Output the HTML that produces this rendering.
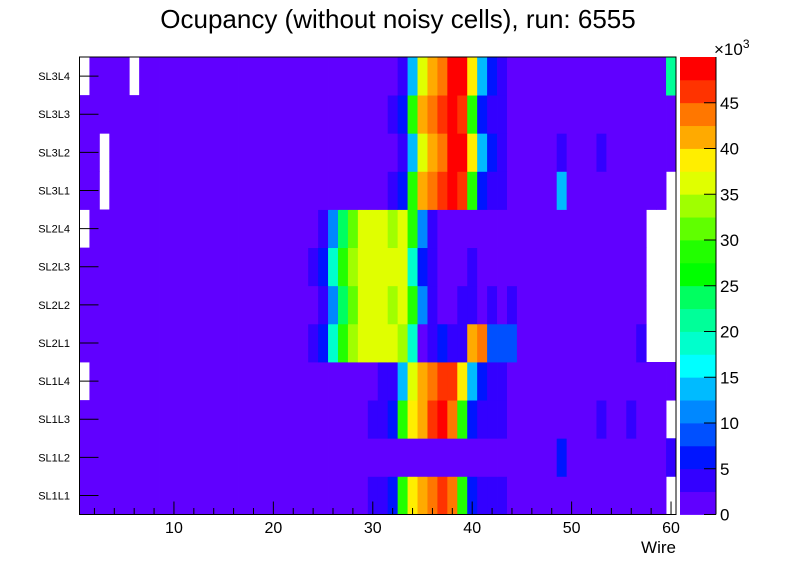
<!DOCTYPE html>
<html><head><meta charset="utf-8">
<style>
body{margin:0;background:#fff;}
svg{display:block;font-family:"Liberation Sans",sans-serif;}
</style></head>
<body>
<svg id="chart" width="796" height="572" viewBox="0 0 796 572">
<rect width="796" height="572" fill="#fff"/>
<text x="398" y="28" font-size="26" text-anchor="middle">Ocupancy (without noisy cells), run: 6555</text>
<g id="cells"></g>
<g id="axes"></g>
<g id="cbar"></g>
</svg>
<script>
// layers (bottom to top)
const layers = ["SL1L1","SL1L2","SL1L3","SL1L4","SL2L1","SL2L2","SL2L3","SL2L4","SL3L1","SL3L2","SL3L3","SL3L4"];
// occupancy in thousands, wires 1..60 (null = empty)
const rowSL1L1 = [1.2,1.2,1.2,1.2,1.2,1.2,1.2,1.2,1.2,1.2, 1.2,1.2,1.2,1.2,1.2,1.2,1.2,1.2,1.2,1.2, 1.2,1.2,1.2,1.2,1.2,1.2,1.2,1.2,1.2,3.7, 3.7,6.2,28.7,38.7,41.2,43.7,46.2,43.7,28.7,6.2, 3.7,3.7,3.7,1.2,1.2,1.2,1.2,1.2,1.2,1.2, 1.2,1.2,1.2,1.2,1.2,1.2,1.2,1.2,1.2,null];
const rowSL1L2 = [1.2,1.2,1.2,1.2,1.2,1.2,1.2,1.2,1.2,1.2, 1.2,1.2,1.2,1.2,1.2,1.2,1.2,1.2,1.2,1.2, 1.2,1.2,1.2,1.2,1.2,1.2,1.2,1.2,1.2,1.2, 1.2,1.2,1.2,1.2,1.2,1.2,1.2,1.2,1.2,1.2, 1.2,1.2,1.2,1.2,1.2,1.2,1.2,1.2,6.2,1.2, 1.2,1.2,1.2,1.2,1.2,1.2,1.2,1.2,1.2,3.7];
const rowSL1L3 = [1.2,1.2,1.2,1.2,1.2,1.2,1.2,1.2,1.2,1.2, 1.2,1.2,1.2,1.2,1.2,1.2,1.2,1.2,1.2,1.2, 1.2,1.2,1.2,1.2,1.2,1.2,1.2,1.2,1.2,3.7, 3.7,6.2,28.7,38.7,41.2,46.2,48.7,43.7,28.7,6.2, 3.7,3.7,3.7,1.2,1.2,1.2,1.2,1.2,1.2,1.2, 1.2,1.2,3.7,1.2,1.2,3.7,1.2,1.2,1.2,null];
const rowSL1L4 = [null,1.2,1.2,1.2,1.2,1.2,1.2,1.2,1.2,1.2, 1.2,1.2,1.2,1.2,1.2,1.2,1.2,1.2,1.2,1.2, 1.2,1.2,1.2,1.2,1.2,1.2,1.2,1.2,1.2,1.2, 3.7,3.7,13.7,36.2,41.2,43.7,46.2,46.2,38.7,13.7, 6.2,3.7,3.7,1.2,1.2,1.2,1.2,1.2,1.2,1.2, 1.2,1.2,1.2,1.2,1.2,1.2,1.2,1.2,1.2,1.2];
const rowSL2L1 = [1.2,1.2,1.2,1.2,1.2,1.2,1.2,1.2,1.2,1.2, 1.2,1.2,1.2,1.2,1.2,1.2,1.2,1.2,1.2,1.2, 1.2,1.2,1.2,3.7,6.2,18.7,28.7,33.7,36.2,36.2, 36.2,36.2,33.7,18.7,1.2,3.7,6.2,3.7,3.7,41.2, 43.7,8.7,8.7,8.7,1.2,1.2,1.2,1.2,1.2,1.2, 1.2,1.2,1.2,1.2,1.2,1.2,3.7,null,null,null];
const rowSL2L2 = [1.2,1.2,1.2,1.2,1.2,1.2,1.2,1.2,1.2,1.2, 1.2,1.2,1.2,1.2,1.2,1.2,1.2,1.2,1.2,1.2, 1.2,1.2,1.2,1.2,3.7,11.2,23.7,31.2,36.2,36.2, 36.2,33.7,36.2,28.7,11.2,3.7,1.2,1.2,3.7,3.7, 1.2,3.7,1.2,3.7,1.2,1.2,1.2,1.2,1.2,1.2, 1.2,1.2,1.2,1.2,1.2,1.2,1.2,null,null,null];
const rowSL2L3 = [1.2,1.2,1.2,1.2,1.2,1.2,1.2,1.2,1.2,1.2, 1.2,1.2,1.2,1.2,1.2,1.2,1.2,1.2,1.2,1.2, 1.2,1.2,1.2,3.7,6.2,18.7,28.7,33.7,36.2,36.2, 36.2,36.2,36.2,18.7,6.2,3.7,1.2,1.2,1.2,3.7, 1.2,1.2,1.2,1.2,1.2,1.2,1.2,1.2,1.2,1.2, 1.2,1.2,1.2,1.2,1.2,1.2,1.2,null,null,null];
const rowSL2L4 = [null,1.2,1.2,1.2,1.2,1.2,1.2,1.2,1.2,1.2, 1.2,1.2,1.2,1.2,1.2,1.2,1.2,1.2,1.2,1.2, 1.2,1.2,1.2,1.2,3.7,11.2,23.7,31.2,36.2,36.2, 36.2,33.7,36.2,28.7,11.2,3.7,1.2,1.2,1.2,1.2, 1.2,1.2,1.2,1.2,1.2,1.2,1.2,1.2,1.2,1.2, 1.2,1.2,1.2,1.2,1.2,1.2,1.2,null,null,null];
const rowSL3L1 = [1.2,1.2,null,1.2,1.2,1.2,1.2,1.2,1.2,1.2, 1.2,1.2,1.2,1.2,1.2,1.2,1.2,1.2,1.2,1.2, 1.2,1.2,1.2,1.2,1.2,1.2,1.2,1.2,1.2,1.2, 1.2,3.7,6.2,28.7,41.2,43.7,46.2,48.7,46.2,28.7, 6.2,3.7,3.7,1.2,1.2,1.2,1.2,1.2,13.7,1.2, 1.2,1.2,1.2,1.2,1.2,1.2,1.2,1.2,1.2,null];
const rowSL3L2 = [1.2,1.2,null,1.2,1.2,1.2,1.2,1.2,1.2,1.2, 1.2,1.2,1.2,1.2,1.2,1.2,1.2,1.2,1.2,1.2, 1.2,1.2,1.2,1.2,1.2,1.2,1.2,1.2,1.2,1.2, 1.2,1.2,3.7,13.7,36.2,41.2,43.7,48.7,48.7,38.7, 13.7,6.2,3.7,1.2,1.2,1.2,1.2,1.2,3.7,1.2, 1.2,1.2,3.7,1.2,1.2,1.2,1.2,1.2,1.2,1.2];
const rowSL3L3 = [1.2,1.2,1.2,1.2,1.2,1.2,1.2,1.2,1.2,1.2, 1.2,1.2,1.2,1.2,1.2,1.2,1.2,1.2,1.2,1.2, 1.2,1.2,1.2,1.2,1.2,1.2,1.2,1.2,1.2,1.2, 1.2,3.7,6.2,28.7,41.2,43.7,46.2,48.7,46.2,28.7, 6.2,3.7,3.7,1.2,1.2,1.2,1.2,1.2,1.2,1.2, 1.2,1.2,1.2,1.2,1.2,1.2,1.2,1.2,1.2,1.2];
const rowSL3L4 = [null,1.2,1.2,1.2,1.2,null,1.2,1.2,1.2,1.2, 1.2,1.2,1.2,1.2,1.2,1.2,1.2,1.2,1.2,1.2, 1.2,1.2,1.2,1.2,1.2,1.2,1.2,1.2,1.2,1.2, 1.2,1.2,3.7,13.7,36.2,41.2,43.7,48.7,48.7,38.7, 13.7,6.2,3.7,1.2,1.2,1.2,1.2,1.2,1.2,1.2, 1.2,1.2,1.2,1.2,1.2,1.2,1.2,1.2,1.2,21.2];
const rows = [rowSL1L1,rowSL1L2,rowSL1L3,rowSL1L4,rowSL2L1,rowSL2L2,rowSL2L3,rowSL2L4,rowSL3L1,rowSL3L2,rowSL3L3,rowSL3L4];
const xTicks = [10,20,30,40,50,60];
const zTicks = [0,5,10,15,20,25,30,35,40,45];

const palette = ["#6000ff","#3300ff","#0015ff","#0050ff","#0088ff","#00bbff","#00ffff","#00ffcc","#00ff99","#00ff60","#00ff00","#22ff00","#60ff00","#a0ff00","#e0ff00","#ffee00","#ffaa00","#ff7700","#ff3300","#ff0000"];
const zMax = 50;
const X0=79.5, X1=676, Y0=57, Y1=514.5;
const xMin=0.5, xMax=60.5;
const sx = w => X0 + (w - xMin) / (xMax - xMin) * (X1 - X0);
const rowH = (Y1 - Y0) / layers.length;
const sy = i => Y1 - (i + 1) * rowH;
const colorOf = v => palette[Math.max(0, Math.min(palette.length - 1, Math.floor(v / zMax * palette.length)))];
const NS = "http://www.w3.org/2000/svg";
function mk(tag, attrs, parent){const e=document.createElementNS(NS,tag);for(const k in attrs)e.setAttribute(k,attrs[k]);parent.appendChild(e);return e;}

const cells = document.getElementById('cells');
mk('rect',{x:X0,y:Y0,width:X1-X0,height:Y1-Y0,fill:'#fff'},cells);
rows.forEach((row, i) => {
  row.forEach((v, j) => {
    if (v === null) return;
    const w = j + 1;
    const r = mk('rect',{x:sx(w-0.5),y:sy(i),width:sx(w+0.5)-sx(w-0.5)+0.4,height:rowH+0.4,fill:colorOf(v)},cells);
    
    
  });
});

const axes = document.getElementById('axes');
mk('rect',{x:X0,y:Y0,width:X1-X0,height:Y1-Y0,fill:'none',stroke:'#000','stroke-width':1},axes);
// x ticks
for (let w = 2; w <= 60; w += 2) {
  const major = w % 10 === 0;
  mk('line',{x1:sx(w),x2:sx(w),y1:Y1,y2:Y1-(major?13:6.5),stroke:'#000','stroke-width':1},axes);
}
xTicks.forEach(t => {
  const tx = mk('text',{x:sx(t),y:533,'font-size':16,'text-anchor':'middle'},axes);
  tx.textContent = t;
  
  
});
const xt = mk('text',{x:676,y:553,'font-size':17,'text-anchor':'end'},axes);
xt.textContent = 'Wire';


// y ticks / labels
layers.forEach((l, i) => {
  const cy = sy(i) + rowH / 2;
  mk('line',{x1:X0,x2:X0+19,y1:cy,y2:cy,stroke:'#000','stroke-width':1},axes);
  const t = mk('text',{x:70,y:cy+4,'font-size':11,'text-anchor':'end'},axes);
  t.textContent = l;
  
  
});

// color bar
const cbar = document.getElementById('cbar');
const CX0=680, CX1=716;
const sz = z => Y1 - z / zMax * (Y1 - Y0);
palette.forEach((c, k) => {
  const r = mk('rect',{x:CX0,y:sz((k+1)*zMax/palette.length),width:CX1-CX0,height:sz(k*zMax/palette.length)-sz((k+1)*zMax/palette.length)+0.4,fill:c},cbar);
  
  
});
mk('line',{x1:CX1,x2:CX1,y1:Y0,y2:Y1,stroke:'#000','stroke-width':1},cbar);
zTicks.forEach(z => {
  mk('line',{x1:CX1-12,x2:CX1,y1:sz(z),y2:sz(z),stroke:'#000','stroke-width':1},cbar);
  const t = mk('text',{x:720,y:sz(z)+6,'font-size':17},cbar);
  t.textContent = z;
  
  
});
const ex = mk('text',{x:714,y:55,'font-size':17},cbar);
ex.innerHTML = '×10<tspan dy="-7" font-size="12">3</tspan>';


</script>
</body></html>
